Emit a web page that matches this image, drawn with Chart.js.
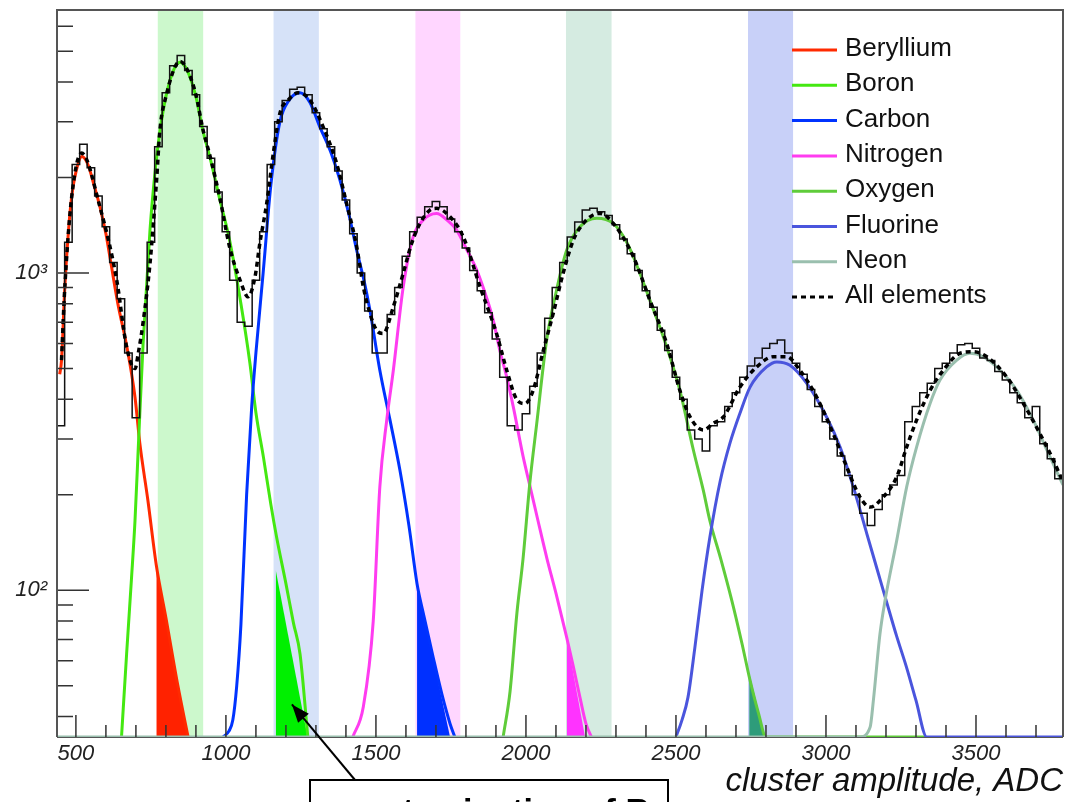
<!DOCTYPE html>
<html>
<head>
<meta charset="utf-8">
<script src="https://cdn.jsdelivr.net/npm/chart.js@4.4.1/dist/chart.umd.min.js"></script>
<style>
  html, body { margin: 0; padding: 0; background: #fff; }
</style>
</head>
<body>
<canvas id="chart" width="1068" height="802"></canvas>
<script>
// axis ranges
const xMin = 437, xMax = 3790;
const yMin = 34.5, yMax = 6750;

// selection bands (ADC)
const bandStart = [772, 1158, 1631, 2133, 2740];
const bandEnd = [925, 1310, 1782, 2286, 2891];
const bandColors = ['#ccf8cc', '#d6e2f8', '#ffd6ff', '#d5ebe1', '#c8d0f8'];

// measured histogram, 25 ADC bins starting at 437.5
const histLow = 437.5;
const histBin = 25;
const histCounts = [
  330, 1250, 2200, 2550, 2150, 1750, 1400, 1080, 830, 560,
  350, 560, 1250, 2500, 3700, 4500, 4850, 4350, 3650, 2900,
  2300, 1800, 1350, 950, 700, 680, 950, 1350, 2200, 3000,
  3500, 3800, 3850, 3650, 3200, 2850, 2500, 2100, 1700, 1330,
  1000, 760, 560, 560, 740, 900, 1130, 1350, 1500, 1620,
  1680, 1620, 1480, 1350, 1200, 1020, 880, 750, 620, 470,
  330, 320, 360, 440, 560, 720, 900, 1080, 1300, 1450,
  1580, 1600, 1560, 1520, 1420, 1280, 1150, 1020, 880, 780,
  660, 570, 470, 400, 320, 300, 275, 330, 340, 380,
  420, 470, 510, 540, 580, 600, 615, 560, 520, 480,
  430, 380, 340, 300, 265, 230, 200, 175, 160, 180,
  200, 215, 230, 340, 380, 420, 450, 500, 520, 560,
  595, 600, 580, 540, 530, 490, 460, 420, 390, 350,
  380, 290, 260, 225
];

// sum of all fits
const allX = [452, 463, 486, 519, 580, 636, 669, 697, 708, 724, 747, 769, 780, 800, 847, 870, 900, 923, 949, 980,
  1013, 1047, 1074, 1097, 1113, 1136, 1158, 1180, 1208, 1241, 1280, 1324, 1369, 1402, 1436, 1458, 1480, 1502, 1524, 1558,
  1591, 1619, 1647, 1680, 1702, 1747, 1791, 1847, 1902, 1936, 1969, 1997, 2024, 2058, 2091, 2124, 2158, 2191, 2224, 2247,
  2291, 2358, 2413, 2469, 2513, 2547, 2591, 2624, 2658, 2713, 2769, 2824, 2869, 2913, 2969, 3024, 3069, 3113, 3147, 3191,
  3236, 3269, 3302, 3347, 3391, 3447, 3491, 3536, 3602, 3658, 3713, 3758, 3785];
const allY = [532, 900, 1740, 2390, 1618, 951, 585, 500, 560, 700, 1073, 1965, 2826, 3600, 4650, 4400, 3650, 2850, 2300, 1720,
  1200, 951, 842, 973, 1240, 1660, 2387, 3190, 3514, 3700, 3514, 2890, 2217, 1660, 1211, 905, 747, 661, 645, 783,
  999, 1240, 1434, 1580, 1600, 1505, 1302, 905, 645, 494, 400, 388, 427, 571, 747, 999, 1271, 1434, 1525, 1542,
  1435, 1126, 822, 600, 427, 352, 320, 336, 352, 437, 506, 545, 545, 494, 407, 312, 245, 197, 183, 197,
  228, 283, 344, 427, 494, 559, 565, 545, 471, 388, 312, 257, 225];

// element fits
const beX = [446, 452, 463, 475, 486, 500, 520, 540, 560, 580, 600, 615, 640, 670, 697, 713, 740, 768, 800, 840, 874];
const beY = [480, 530, 900, 1350, 1740, 2080, 2330, 2200, 1900, 1620, 1330, 1100, 800, 585, 406, 291, 192, 120, 82, 50, 34.5];
const bX = [652, 669, 685, 697, 708, 724, 747, 765, 780, 800, 825, 847, 870, 900, 923, 949, 980, 1013, 1050, 1080,
  1100, 1125, 1150, 1169, 1200, 1225, 1247, 1273];
const bY = [34.5, 63, 108, 166, 283, 600, 1370, 2140, 2800, 3600, 4350, 4620, 4370, 3600, 2820, 2270, 1700, 1260, 800, 520,
  363, 263, 186, 147, 105, 79, 63, 34.5];
const cX = [990, 1010, 1023, 1036, 1050, 1069, 1086, 1100, 1124, 1150, 1180, 1210, 1247, 1280, 1313, 1350, 1380, 1410, 1436, 1460,
  1480, 1513, 1547, 1580, 1610, 1637, 1660, 1690, 1720, 1747, 1763];
const cY = [34.5, 36, 39, 50, 78, 200, 380, 560, 1000, 1900, 3000, 3500, 3700, 3450, 2890, 2400, 1965, 1530, 1180, 950,
  764, 494, 344, 239, 160, 105, 83, 62, 47, 38, 34.5];
const nX = [1423, 1458, 1491, 1513, 1536, 1558, 1591, 1624, 1658, 1702, 1740, 1769, 1800, 1836, 1870, 1891, 1913, 1936, 1958, 1991,
  2013, 2040, 2070, 2100, 2136, 2157, 2180, 2200, 2218];
const nY = [34.5, 43, 80, 212, 344, 494, 905, 1300, 1470, 1540, 1460, 1366, 1200, 1022, 830, 711, 571, 470, 378, 263,
  214, 166, 126, 98, 71, 58, 46, 38, 34.5];
const oX = [1924, 1947, 1970, 1990, 2013, 2036, 2069, 2102, 2136, 2180, 2236, 2291, 2330, 2358, 2413, 2469, 2513, 2558, 2591, 2613,
  2650, 2686, 2720, 2747, 2775, 2800, 3330];
const oY = [34.5, 48, 85, 125, 218, 336, 615, 883, 1182, 1400, 1490, 1435, 1280, 1126, 822, 586, 427, 277, 207, 166,
  125, 93, 68, 52, 41, 34.5, 34.5];
const fX = [2500, 2520, 2540, 2563, 2587, 2613, 2647, 2680, 2713, 2747, 2802, 2836, 2880, 2936, 3002, 3047, 3091, 3136, 3170, 3202,
  3235, 3269, 3300, 3336, 3790];
const fY = [34.5, 39, 46, 66, 100, 147, 220, 291, 361, 437, 506, 525, 512, 449, 352, 283, 212, 151, 117, 92,
  72, 57, 45, 34.5, 34.5];
const neX = [437, 3113, 3147, 3158, 3180, 3197, 3236, 3269, 3302, 3347, 3380, 3436, 3480, 3524, 3580, 3636, 3691, 3736, 3790];
const neY = [34.5, 34.5, 37, 45, 73, 93, 144, 212, 283, 388, 460, 532, 559, 545, 494, 427, 344, 277, 215];

// contamination areas inside the bands
const fillBeX = [768, 874], fillBeY = [120, 34.5];
const fillBX = [1166, 1272], fillBY = [116, 34.5];
const fillCX = [1637, 1747], fillCY = [105, 34.5];
const fillNX = [2136, 2197], fillNY = [71, 34.5];
const fillOX = [2744, 2797], fillOY = [55, 34.5];

const FONT = "'Liberation Sans', Arial, Helvetica, sans-serif";
Chart.defaults.font.family = FONT;

const pts = (xs, ys) => xs.map((x, i) => ({ x, y: ys[i] }));

function curve(label, xs, ys, color, order) {
  return {
    label, data: pts(xs, ys), borderColor: color, borderWidth: 3, pointRadius: 0,
    fill: false, cubicInterpolationMode: 'monotone', order, inLegend: true
  };
}

function area(xs, ys, color) {
  return { data: pts(xs, ys), backgroundColor: color, borderWidth: 0, pointRadius: 0, fill: 'start', order: 20 };
}

const histData = histCounts.map((c, i) => ({ x: histLow + i * histBin, y: c }));
histData.push({ x: histLow + histCounts.length * histBin, y: histCounts[histCounts.length - 1] });

const bands = bandStart.map((s, i) => ({
  data: [{ x: s, y: yMax }, { x: bandEnd[i], y: yMax }],
  backgroundColor: bandColors[i], borderWidth: 0, pointRadius: 0, fill: 'start', order: 100
}));

const datasets = [
  ...bands,
  area(fillBeX, fillBeY, '#ff2200'),
  area(fillBX, fillBY, '#00f000'),
  area(fillCX, fillCY, '#0030ff'),
  area(fillNX, fillNY, '#ff33ff'),
  area(fillOX, fillOY, '#2e9c7a'),
  curve('Beryllium', beX, beY, '#ff2a00', 9),
  curve('Boron', bX, bY, '#44e811', 8),
  curve('Carbon', cX, cY, '#0033ff', 7),
  curve('Nitrogen', nX, nY, '#ff3cf0', 6),
  curve('Oxygen', oX, oY, '#5fcc3a', 5),
  curve('Fluorine', fX, fY, '#4a55dd', 4),
  curve('Neon', neX, neY, '#9abfae', 3),
  {
    label: 'data', data: histData, borderColor: '#111', borderWidth: 1.5, pointRadius: 0,
    fill: false, stepped: true, order: 2
  },
  {
    label: 'All elements', data: pts(allX, allY), borderColor: '#000', borderWidth: 3.5, borderDash: [5, 4],
    pointRadius: 0, fill: false, cubicInterpolationMode: 'monotone', order: 1, inLegend: true
  }
];

const framePlugin = {
  id: 'frame',
  beforeDatasetsDraw(chart) {
    const { ctx, chartArea: a } = chart;
    ctx.save();
    ctx.strokeStyle = '#555';
    ctx.lineWidth = 2;
    ctx.beginPath();
    ctx.moveTo(a.left, a.bottom);
    ctx.lineTo(a.right, a.bottom);
    ctx.stroke();
    ctx.restore();
  },
  afterDatasetsDraw(chart) {
    const { ctx, chartArea: a, scales: { x, y } } = chart;
    ctx.save();

    // tick marks, drawn inside the frame
    ctx.strokeStyle = '#333';
    ctx.lineWidth = 1.5;
    ctx.beginPath();
    x.ticks.forEach(t => {
      const px = x.getPixelForValue(t.value);
      const len = t.value % 500 === 0 ? 22 : 12;
      ctx.moveTo(px, a.bottom);
      ctx.lineTo(px, a.bottom - len);
    });
    y.ticks.forEach(t => {
      const m = t.value / Math.pow(10, Math.floor(Math.log10(t.value)));
      if (Math.abs(m - Math.round(m)) > 1e-6) return;
      const py = y.getPixelForValue(t.value);
      const len = Math.round(m) === 1 ? 32 : 16;
      ctx.moveTo(a.left, py);
      ctx.lineTo(a.left + len, py);
    });
    ctx.stroke();

    // frame
    ctx.strokeStyle = '#555';
    ctx.lineWidth = 2;
    ctx.beginPath();
    ctx.moveTo(a.left, a.bottom);
    ctx.lineTo(a.left, a.top);
    ctx.lineTo(a.right, a.top);
    ctx.lineTo(a.right, a.bottom);
    ctx.stroke();

    // legend
    const items = chart.data.datasets.filter(d => d.inLegend);
    const order = ['Beryllium', 'Boron', 'Carbon', 'Nitrogen', 'Oxygen', 'Fluorine', 'Neon', 'All elements'];
    ctx.font = '26px ' + FONT;
    ctx.textBaseline = 'middle';
    ctx.textAlign = 'left';
    order.forEach((name, i) => {
      const d = items.find(it => it.label === name);
      const ly = 49 + i * 35.3;
      ctx.strokeStyle = d.borderColor;
      ctx.lineWidth = 3;
      ctx.setLineDash(d.borderDash || []);
      ctx.beginPath();
      ctx.moveTo(792, ly + 1);
      ctx.lineTo(837, ly + 1);
      ctx.stroke();
      ctx.setLineDash([]);
      ctx.fillStyle = '#111';
      ctx.fillText(name, 845, ly);
    });

    // annotation box with arrow
    const tipX = x.getPixelForValue(1220), tipY = y.getPixelForValue(43.7);
    const tailX = 355, tailY = 780;
    ctx.strokeStyle = '#000';
    ctx.fillStyle = '#000';
    ctx.lineWidth = 2;
    ctx.beginPath();
    ctx.moveTo(tailX, tailY);
    ctx.lineTo(tipX, tipY);
    ctx.stroke();
    const ang = Math.atan2(tipY - tailY, tipX - tailX);
    ctx.beginPath();
    ctx.moveTo(tipX, tipY);
    ctx.lineTo(tipX - 18 * Math.cos(ang) + 7 * Math.sin(ang), tipY - 18 * Math.sin(ang) - 7 * Math.cos(ang));
    ctx.lineTo(tipX - 18 * Math.cos(ang) - 7 * Math.sin(ang), tipY - 18 * Math.sin(ang) + 7 * Math.cos(ang));
    ctx.closePath();
    ctx.fill();

    ctx.fillStyle = '#fff';
    ctx.fillRect(310, 780, 358, 40);
    ctx.strokeRect(310, 780, 358, 40);
    ctx.fillStyle = '#000';
    ctx.font = 'bold 34px ' + FONT;
    ctx.textAlign = 'center';
    ctx.textBaseline = 'alphabetic';
    ctx.fillText('contamination of B', 496, 822);
    ctx.restore();
  }
};

new Chart(document.getElementById('chart'), {
  type: 'line',
  data: { datasets },
  plugins: [framePlugin],
  options: {
    responsive: false,
    animation: false,
    devicePixelRatio: 1,
    layout: { padding: { top: 10, right: 5, left: 0, bottom: 0 } },
    plugins: { legend: { display: false }, tooltip: { enabled: false } },
    scales: {
      x: {
        type: 'linear', min: xMin, max: xMax, position: 'bottom',
        grid: { display: false, drawTicks: false }, border: { display: false },
        afterFit(s) { s.height = 65; s.paddingLeft = 0; s.paddingRight = 0; },
        ticks: {
          stepSize: 100, includeBounds: false, autoSkip: false, maxRotation: 0, padding: 4,
          color: '#222', font: { size: 22, style: 'italic' },
          callback: v => (v % 500 === 0 ? String(v) : '')
        },
        title: {
          display: true, text: 'cluster amplitude, ADC', align: 'end', color: '#111',
          font: { size: 33, style: 'italic' }, padding: { top: 0, bottom: 0 }
        }
      },
      y: {
        type: 'logarithmic', min: yMin, max: yMax,
        grid: { display: false, drawTicks: false }, border: { display: false },
        afterFit(s) { s.width = 57; s.paddingTop = 0; s.paddingBottom = 0; },
        ticks: {
          autoSkip: false, padding: 10, color: '#222', font: { size: 22, style: 'italic' },
          callback: v => (v === 100 ? '10²' : v === 1000 ? '10³' : '')
        }
      }
    }
  }
});
</script>
</body>
</html>
